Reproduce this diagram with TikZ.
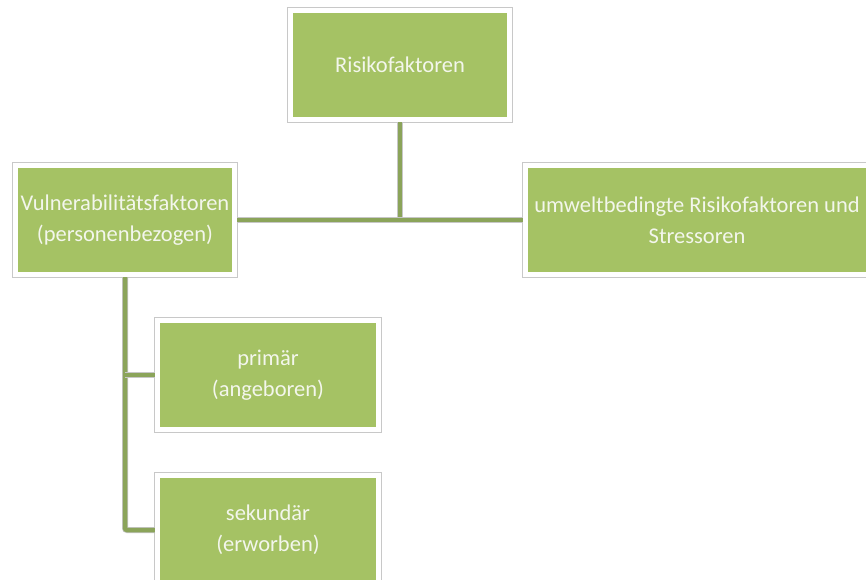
\documentclass[tikz,border=0pt]{standalone}
\usepackage{fontspec}
\setmainfont{Carlito}
\usetikzlibrary{backgrounds}
\definecolor{boxgreen}{HTML}{A5C264}
\definecolor{boxtext}{HTML}{F3F6EC}
\definecolor{linegreen}{HTML}{8BA45A}
\definecolor{framegray}{HTML}{C8C8C8}
\tikzset{
  greenbox/.style={rectangle, fill=boxgreen, text=boxtext, align=center,
    font=\fontsize{22.5}{31}\selectfont, inner sep=0pt},
  framebox/.style={draw=framegray, line width=0.8pt, fill=white},
  conn/.style={draw=linegreen, line width=4.5pt, rounded corners=2pt,
    preaction={draw=black!22, line width=6pt}},
}
\begin{document}
\begin{tikzpicture}[x=1pt,y=-1pt]
\useasboundingbox (0,0) rectangle (866,580);
\clip (0,0) rectangle (866,580);

\node[greenbox, minimum width=214pt, minimum height=104pt] (top) at (400,65) {Risikofaktoren};
\node[greenbox, minimum width=214pt, minimum height=104pt] (left) at (125,220) {Vulnerabilitätsfaktoren\\(personenbezogen)};
\node[greenbox, minimum width=338pt, minimum height=104pt] (right) at (697,220) {umweltbedingte Risikofaktoren und\\Stressoren};
\node[greenbox, minimum width=216pt, minimum height=104pt] (prim) at (268,375) {primär\\(angeboren)};
\node[greenbox, minimum width=216pt, minimum height=104pt] (sek) at (268,530) {sekundär\\(erworben)};

\begin{scope}[on background layer]
\fill[white] (0,0) rectangle (866,580);
\foreach \n in {top,left,right,prim,sek}{
  \draw[framebox] ([xshift=-5pt,yshift=5pt]\n.north west) rectangle ([xshift=5pt,yshift=-5pt]\n.south east);
}
\end{scope}

\draw[conn, shorten <=5pt] (top.south) -- (top.south |- left.east);
\draw[conn, shorten <=5pt, shorten >=5pt] (left.east) -- (right.west);
\draw[conn, shorten <=5pt, shorten >=5pt] (left.south) -- (left.south |- sek.west) -- (sek.west);
\draw[conn, shorten >=5pt] (left.south |- prim.west) -- (prim.west);
\end{tikzpicture}
\end{document}
